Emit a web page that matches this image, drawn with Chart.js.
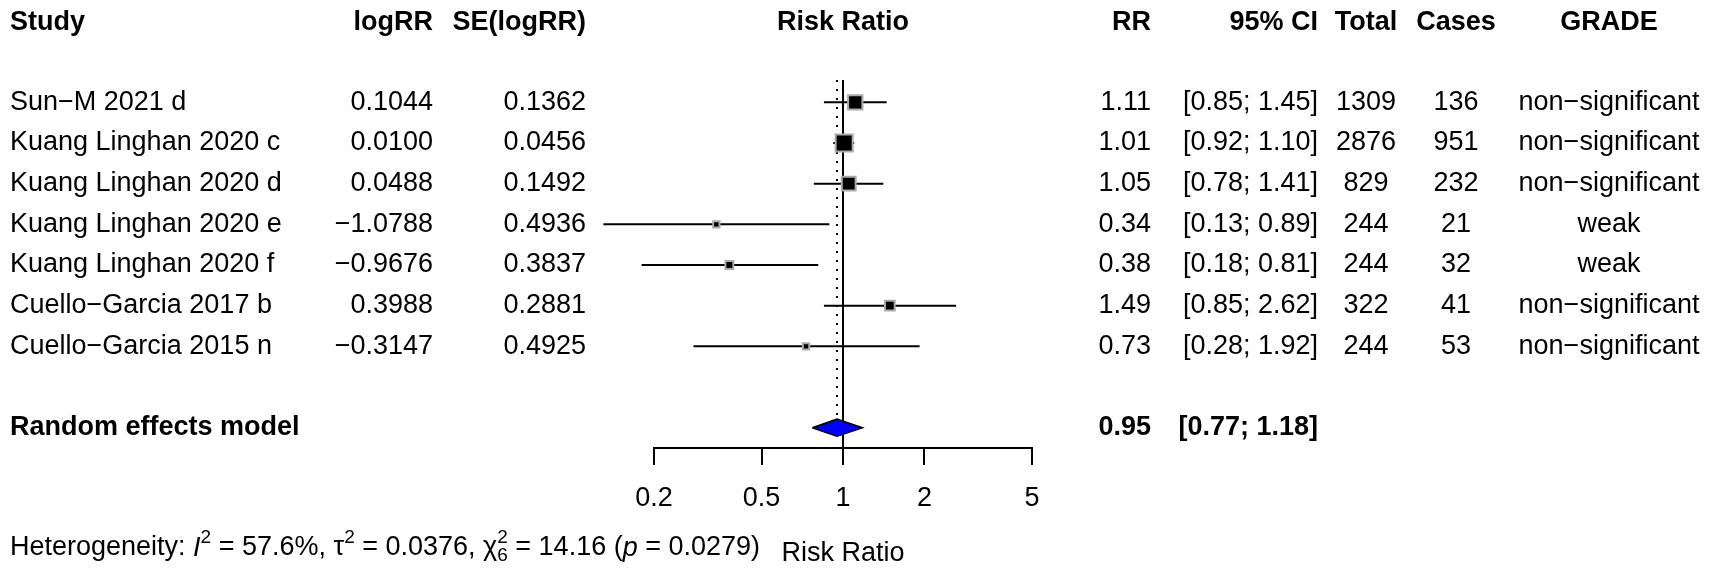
<!DOCTYPE html>
<html lang="en">
<head>
  <meta charset="UTF-8">
  <meta name="viewport" content="width=device-width, initial-scale=1.0">
  <title>Forest Plot</title>
  <style>
    html, body { margin: 0; padding: 0; background: #fff; }
    .chart-container { width: 1713px; height: 575px; }
  </style>
</head>
<body>
  <div class="chart-container">
    <canvas id="forest"></canvas>
  </div>

  <script src="https://cdn.jsdelivr.net/npm/chart.js"></script>
  <script>
    // Study table.
    const studies = [
      'Sun\u2212M 2021 d',
      'Kuang Linghan 2020 c',
      'Kuang Linghan 2020 d',
      'Kuang Linghan 2020 e',
      'Kuang Linghan 2020 f',
      'Cuello\u2212Garcia 2017 b',
      'Cuello\u2212Garcia 2015 n'
    ];
    const logRR = [0.1044, 0.0100, 0.0488, -1.0788, -0.9676, 0.3988, -0.3147];
    const seLogRR = [0.1362, 0.0456, 0.1492, 0.4936, 0.3837, 0.2881, 0.4925];
    const rr = [1.11, 1.01, 1.05, 0.34, 0.38, 1.49, 0.73];
    const ciLower = [0.85, 0.92, 0.78, 0.13, 0.18, 0.85, 0.28];
    const ciUpper = [1.45, 1.10, 1.41, 0.89, 0.81, 2.62, 1.92];
    const totals = [1309, 2876, 829, 244, 244, 322, 244];
    const cases = [136, 951, 232, 21, 32, 41, 53];
    const grades = [
      'non\u2212significant', 'non\u2212significant', 'non\u2212significant',
      'weak', 'weak', 'non\u2212significant', 'non\u2212significant'
    ];

    // Random effects summary and heterogeneity.
    const pooledRR = 0.95;
    const pooledLower = 0.77;
    const pooledUpper = 1.18;
    const i2 = '57.6%';
    const tau2 = 0.0376;
    const chi2 = '14.16';
    const chiDf = '6';
    const pValue = '0.0279';

    const xTicks = [0.2, 0.5, 1, 2, 5];

    const FONT = '"Liberation Sans", Arial, Helvetica, sans-serif';
    const FS = 27;
    const POOLED_ROW = 8;
    const HEADER_ROW = -1.97;
    const TOP_ROW = -0.55;
    const AXIS_ROW = 8.5;
    const DIAMOND_H = 0.21;
    const MAX_BOX = 17;

    // Box area proportional to random effects weight.
    const weights = seLogRR.map(se => 1 / (se * se + tau2));
    const maxW = Math.max(...weights);
    const boxRadius = weights.map(w => MAX_BOX * Math.sqrt(w / maxW) / Math.SQRT2);

    const whiskers = studies.map((s, i) => ({
      label: s,
      data: [{x: ciLower[i], y: i}, {x: ciUpper[i], y: i}],
      showLine: true,
      borderColor: '#000',
      borderWidth: 2,
      pointRadius: 0,
      clip: false,
      order: 2
    }));

    const datasets = [
      {
        label: 'Studies',
        data: studies.map((s, i) => ({x: Math.exp(logRR[i]), y: i})),
        pointStyle: 'rect',
        pointRadius: boxRadius,
        backgroundColor: '#000',
        borderColor: '#aaaaaa',
        borderWidth: 2,
        showLine: false,
        order: 1
      },
      ...whiskers,
      {
        label: 'Random effects model',
        data: [
          {x: pooledLower, y: POOLED_ROW},
          {x: pooledRR, y: POOLED_ROW - DIAMOND_H},
          {x: pooledUpper, y: POOLED_ROW},
          {x: pooledRR, y: POOLED_ROW + DIAMOND_H},
          {x: pooledLower, y: POOLED_ROW}
        ],
        showLine: true,
        fill: 'shape',
        backgroundColor: '#0000ff',
        borderColor: '#000',
        borderWidth: 1.5,
        pointRadius: 0,
        order: 0
      },
      {
        label: 'No effect',
        data: [{x: 1, y: TOP_ROW}, {x: 1, y: AXIS_ROW}],
        showLine: true,
        borderColor: '#000',
        borderWidth: 2,
        pointRadius: 0,
        order: 3
      },
      {
        label: 'Pooled estimate',
        data: [{x: pooledRR, y: TOP_ROW}, {x: pooledRR, y: POOLED_ROW - DIAMOND_H}],
        showLine: true,
        borderColor: '#000',
        borderWidth: 2,
        borderDash: [2, 7],
        pointRadius: 0,
        order: 3
      }
    ];

    // Draw a run of text pieces (italic / superscript) from left to right.
    function drawRich(ctx, pieces, x, y) {
      ctx.textAlign = 'left';
      ctx.textBaseline = 'middle';
      for (const p of pieces) {
        const size = p.sup || p.sub ? Math.round(FS * 0.72) : FS;
        ctx.font = `${p.italic ? 'italic ' : ''}${size}px ${FONT}`;
        if (p.sup && p.sub) {
          ctx.fillText(p.sup, x, y - FS * 0.38);
          ctx.fillText(p.sub, x, y + FS * 0.3);
          x += Math.max(ctx.measureText(p.sup).width, ctx.measureText(p.sub).width);
        } else if (p.sup) {
          ctx.fillText(p.sup, x, y - FS * 0.38);
          x += ctx.measureText(p.sup).width;
        } else {
          ctx.fillText(p.t, x, y);
          x += ctx.measureText(p.t).width;
        }
      }
    }

    const tablePlugin = {
      id: 'forestTable',
      afterDraw(chart) {
        const ctx = chart.ctx;
        const xs = chart.scales.x;
        const ys = chart.scales.y;
        const cols = [
          {head: 'Study', x: 10, align: 'left', cell: i => studies[i]},
          {head: 'logRR', x: 433, align: 'right', cell: i => logRR[i].toFixed(4).replace('-', '\u2212')},
          {head: 'SE(logRR)', x: 586, align: 'right', cell: i => seLogRR[i].toFixed(4)},
          {head: 'RR', x: 1151, align: 'right', cell: i => rr[i].toFixed(2)},
          {head: '95% CI', x: 1318, align: 'right', cell: i => `[${ciLower[i].toFixed(2)}; ${ciUpper[i].toFixed(2)}]`},
          {head: 'Total', x: 1366, align: 'center', cell: i => String(totals[i])},
          {head: 'Cases', x: 1456, align: 'center', cell: i => String(cases[i])},
          {head: 'GRADE', x: 1609, align: 'center', cell: i => grades[i]}
        ];
        ctx.save();
        ctx.fillStyle = '#000';
        ctx.textBaseline = 'middle';
        const headY = ys.getPixelForValue(HEADER_ROW);
        for (const c of cols) {
          ctx.textAlign = c.align;
          ctx.font = `bold ${FS}px ${FONT}`;
          ctx.fillText(c.head, c.x, headY);
          ctx.font = `${FS}px ${FONT}`;
          studies.forEach((s, i) => ctx.fillText(c.cell(i), c.x, ys.getPixelForValue(i)));
        }
        // Random effects row
        const py = ys.getPixelForValue(POOLED_ROW);
        ctx.font = `bold ${FS}px ${FONT}`;
        ctx.textAlign = 'left';
        ctx.fillText('Random effects model', cols[0].x, py);
        ctx.textAlign = 'right';
        ctx.fillText(pooledRR.toFixed(2), cols[3].x, py);
        ctx.fillText(`[${pooledLower.toFixed(2)}; ${pooledUpper.toFixed(2)}]`, cols[4].x, py);

        // Column title over the plot and axis title below it
        ctx.textAlign = 'center';
        ctx.fillText('Risk Ratio', xs.getPixelForValue(1), headY);
        ctx.font = `${FS}px ${FONT}`;
        ctx.fillText('Risk Ratio', xs.getPixelForValue(1), 554);

        drawRich(ctx, [
          {t: 'Heterogeneity: '},
          {t: 'I', italic: true},
          {sup: '2'},
          {t: ` = ${i2}, `},
          {t: '\u03c4'},
          {sup: '2'},
          {t: ` = ${tau2.toFixed(4)}, `},
          {t: '\u03c7'},
          {sup: '2', sub: chiDf},
          {t: ` = ${chi2} (`},
          {t: 'p', italic: true},
          {t: ` = ${pValue})`}
        ], 10, 548);
        ctx.restore();
      }
    };

    const config = {
      type: 'scatter',
      data: {datasets},
      options: {
        responsive: true,
        maintainAspectRatio: false,
        animation: false,
        events: [],
        layout: {padding: {left: 654, right: 681, top: 80, bottom: 37}},
        plugins: {
          legend: {display: false},
          tooltip: {enabled: false},
          title: {display: false}
        },
        scales: {
          x: {
            type: 'logarithmic',
            min: 0.2,
            max: 5,
            afterBuildTicks: scale => {
              scale.ticks = xTicks.map(v => ({value: v}));
            },
            afterFit: scale => {
              scale.height = 90;
            },
            ticks: {
              autoSkip: false,
              maxRotation: 0,
              color: '#000',
              padding: 17,
              font: {family: FONT, size: FS},
              callback: value => String(value)
            },
            grid: {
              drawOnChartArea: false,
              drawTicks: true,
              tickLength: 17,
              color: '#000',
              lineWidth: 2
            },
            border: {display: true, color: '#000', width: 2}
          },
          y: {
            type: 'linear',
            reverse: true,
            min: TOP_ROW,
            max: AXIS_ROW,
            display: false
          }
        }
      },
      plugins: [tablePlugin]
    };

    const chart = new Chart(document.getElementById('forest'), config);
    window.chart = chart;
  </script>
</body>
</html>
